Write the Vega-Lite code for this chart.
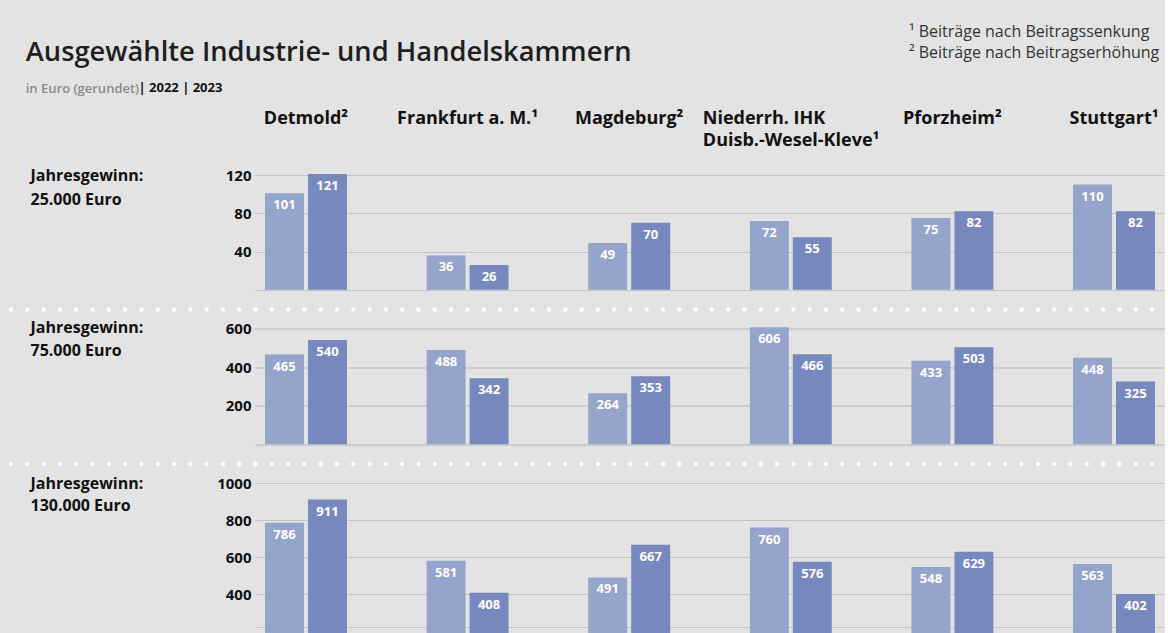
{
  "$schema": "https://vega.github.io/schema/vega-lite/v6.json",
  "background": "#e3e3e3",
  "padding": {"left": 2, "top": 24, "right": 0, "bottom": 0},
  "config": {
    "font": "Open Sans",
    "view": {"stroke": null}
  },
  "title": {
    "text": "Ausgewählte Industrie- und Handelskammern",
    "subtitle": "in Euro (gerundet)",
    "anchor": "start",
    "frame": "bounds",
    "dx": 23,
    "offset": -72,
    "fontSize": 27.3,
    "fontWeight": 600,
    "color": "#1e1e1e",
    "subtitleFontSize": 13,
    "subtitleFontWeight": 600,
    "subtitleColor": "#8a8a8a",
    "subtitlePadding": 17
  },
  "datasets": {
    "ihk": [
      {"gewinn": "25.000 Euro", "ort": "Detmold²", "jahr": "2022", "euro": 101},
      {"gewinn": "25.000 Euro", "ort": "Detmold²", "jahr": "2023", "euro": 121},
      {"gewinn": "25.000 Euro", "ort": "Frankfurt a. M.¹", "jahr": "2022", "euro": 36},
      {"gewinn": "25.000 Euro", "ort": "Frankfurt a. M.¹", "jahr": "2023", "euro": 26},
      {"gewinn": "25.000 Euro", "ort": "Magdeburg²", "jahr": "2022", "euro": 49},
      {"gewinn": "25.000 Euro", "ort": "Magdeburg²", "jahr": "2023", "euro": 70},
      {"gewinn": "25.000 Euro", "ort": "Niederrh. IHK Duisb.-Wesel-Kleve¹", "jahr": "2022", "euro": 72},
      {"gewinn": "25.000 Euro", "ort": "Niederrh. IHK Duisb.-Wesel-Kleve¹", "jahr": "2023", "euro": 55},
      {"gewinn": "25.000 Euro", "ort": "Pforzheim²", "jahr": "2022", "euro": 75},
      {"gewinn": "25.000 Euro", "ort": "Pforzheim²", "jahr": "2023", "euro": 82},
      {"gewinn": "25.000 Euro", "ort": "Stuttgart¹", "jahr": "2022", "euro": 110},
      {"gewinn": "25.000 Euro", "ort": "Stuttgart¹", "jahr": "2023", "euro": 82},
      {"gewinn": "75.000 Euro", "ort": "Detmold²", "jahr": "2022", "euro": 465},
      {"gewinn": "75.000 Euro", "ort": "Detmold²", "jahr": "2023", "euro": 540},
      {"gewinn": "75.000 Euro", "ort": "Frankfurt a. M.¹", "jahr": "2022", "euro": 488},
      {"gewinn": "75.000 Euro", "ort": "Frankfurt a. M.¹", "jahr": "2023", "euro": 342},
      {"gewinn": "75.000 Euro", "ort": "Magdeburg²", "jahr": "2022", "euro": 264},
      {"gewinn": "75.000 Euro", "ort": "Magdeburg²", "jahr": "2023", "euro": 353},
      {"gewinn": "75.000 Euro", "ort": "Niederrh. IHK Duisb.-Wesel-Kleve¹", "jahr": "2022", "euro": 606},
      {"gewinn": "75.000 Euro", "ort": "Niederrh. IHK Duisb.-Wesel-Kleve¹", "jahr": "2023", "euro": 466},
      {"gewinn": "75.000 Euro", "ort": "Pforzheim²", "jahr": "2022", "euro": 433},
      {"gewinn": "75.000 Euro", "ort": "Pforzheim²", "jahr": "2023", "euro": 503},
      {"gewinn": "75.000 Euro", "ort": "Stuttgart¹", "jahr": "2022", "euro": 448},
      {"gewinn": "75.000 Euro", "ort": "Stuttgart¹", "jahr": "2023", "euro": 325},
      {"gewinn": "130.000 Euro", "ort": "Detmold²", "jahr": "2022", "euro": 786},
      {"gewinn": "130.000 Euro", "ort": "Detmold²", "jahr": "2023", "euro": 911},
      {"gewinn": "130.000 Euro", "ort": "Frankfurt a. M.¹", "jahr": "2022", "euro": 581},
      {"gewinn": "130.000 Euro", "ort": "Frankfurt a. M.¹", "jahr": "2023", "euro": 408},
      {"gewinn": "130.000 Euro", "ort": "Magdeburg²", "jahr": "2022", "euro": 491},
      {"gewinn": "130.000 Euro", "ort": "Magdeburg²", "jahr": "2023", "euro": 667},
      {"gewinn": "130.000 Euro", "ort": "Niederrh. IHK Duisb.-Wesel-Kleve¹", "jahr": "2022", "euro": 760},
      {"gewinn": "130.000 Euro", "ort": "Niederrh. IHK Duisb.-Wesel-Kleve¹", "jahr": "2023", "euro": 576},
      {"gewinn": "130.000 Euro", "ort": "Pforzheim²", "jahr": "2022", "euro": 548},
      {"gewinn": "130.000 Euro", "ort": "Pforzheim²", "jahr": "2023", "euro": 629},
      {"gewinn": "130.000 Euro", "ort": "Stuttgart¹", "jahr": "2022", "euro": 563},
      {"gewinn": "130.000 Euro", "ort": "Stuttgart¹", "jahr": "2023", "euro": 402}
    ]
  },
  "bounds": "flush",
  "spacing": 19.5,
  "vconcat": [
    {
      "width": 910,
      "height": 134,
      "data": {"name": "ihk"},
      "transform": [{"filter": "datum.gewinn == '25.000 Euro'"}],
      "title": {
        "text": ["¹ Beiträge nach Beitragssenkung", "² Beiträge nach Beitragserhöhung"],
        "anchor": "start",
        "frame": "group",
        "align": "left",
        "dx": 654,
        "offset": 20,
        "fontSize": 16,
        "fontWeight": "normal",
        "color": "#333333",
        "lineHeight": 21
      },
      "encoding": {
        "x": {
          "field": "ort", "type": "nominal", "sort": null,
          "scale": {"paddingInner": 0.493, "paddingOuter": 0.062},
          "axis": {
            "orient": "top", "domain": false, "ticks": false, "tickSize": 0, "grid": false,
            "labelAngle": 0, "labelFontSize": 18, "labelFontWeight": "bold", "labelColor": "#111111",
            "labelPadding": 52, "labelBaseline": "alphabetic", "labelLineHeight": 22, "labelLimit": 400,
            "labelExpr": "indexof(datum.value, 'Niederrh') >= 0 ? ['Niederrh. IHK', 'Duisb.-Wesel-Kleve¹'] : datum.label",
            "labelAlign": {"condition": {"test": "indexof(datum.value, 'Niederrh') >= 0", "value": "left"}, "value": "center"},
            "labelOffset": {"condition": {"test": "indexof(datum.value, 'Niederrh') >= 0", "value": -88}, "value": 0},
            "title": "| 2022 | 2023",
            "titleX": -117, "titleY": -88, "titleAlign": "left", "titleBaseline": "middle", "titleAngle": 0,
            "titleFontSize": 13, "titleFontWeight": "bold", "titleColor": "#111111"
          }
        },
        "xOffset": {"field": "jahr", "type": "nominal", "scale": {"paddingInner": 0.093, "paddingOuter": 0}},
        "y": {
          "field": "euro", "type": "quantitative",
          "scale": {"domain": [-20, 120], "nice": false, "zero": false},
          "axis": {
            "values": [-20, 0, 40, 80, 120],
            "labelExpr": "datum.value > 0 ? datum.label : ''",
            "domain": false, "ticks": true, "tickSize": 250, "tickColor": "white", "tickWidth": 4.5,
            "tickDash": [0, 16.3], "tickCap": "round",
            "tickOpacity": {"condition": {"test": "datum.value < 0", "value": 1}, "value": 0},
            "labelPadding": -246, "labelFontSize": 15, "labelFontWeight": "bold", "labelColor": "#111111",
            "grid": true, "gridCap": "round",
            "gridColor": {"condition": {"test": "datum.value < 0", "value": "white"}, "value": "#c3c3c3"},
            "gridWidth": {"condition": {"test": "datum.value < 0", "value": 4.5}, "value": 1},
            "gridDash": {"condition": {"test": "datum.value < 0", "value": [0, 16.3]}, "value": [1, 0]},
            "title": ["Jahresgewinn:", "25.000 Euro"],
            "titleAngle": 0, "titleAlign": "left", "titleBaseline": "alphabetic",
            "titleX": -225, "titleY": 5, "titleFontSize": 16, "titleFontWeight": "bold", "titleColor": "#111111",
            "titleLineHeight": 24.5
          }
        }
      },
      "layer": [
        {
          "mark": {"type": "bar", "clip": false},
          "encoding": {
            "color": {"field": "jahr", "type": "nominal", "scale": {"domain": ["2022", "2023"], "range": ["#95a4ca", "#7788bf"]}, "legend": null}
          }
        },
        {
          "mark": {"type": "text", "dy": 12, "baseline": "middle", "color": "white", "fontWeight": "bold", "fontSize": 13},
          "encoding": {"text": {"field": "euro", "type": "quantitative"}}
        }
      ]
    },
    {
      "width": 910,
      "height": 135,
      "data": {"name": "ihk"},
      "transform": [{"filter": "datum.gewinn == '75.000 Euro'"}],
      "encoding": {
        "x": {
          "field": "ort", "type": "nominal", "sort": null,
          "scale": {"paddingInner": 0.493, "paddingOuter": 0.062},
          "axis": null
        },
        "xOffset": {"field": "jahr", "type": "nominal", "scale": {"paddingInner": 0.093, "paddingOuter": 0}},
        "y": {
          "field": "euro", "type": "quantitative",
          "scale": {"domain": [-100, 600], "nice": false, "zero": false},
          "axis": {
            "values": [-100, 0, 200, 400, 600],
            "labelExpr": "datum.value > 0 ? datum.label : ''",
            "domain": false, "ticks": true, "tickSize": 250, "tickColor": "white", "tickWidth": 4.5,
            "tickDash": [0, 16.3], "tickCap": "round",
            "tickOpacity": {"condition": {"test": "datum.value < 0", "value": 1}, "value": 0},
            "labelPadding": -246, "labelFontSize": 15, "labelFontWeight": "bold", "labelColor": "#111111",
            "grid": true, "gridCap": "round",
            "gridColor": {"condition": {"test": "datum.value < 0", "value": "white"}, "value": "#c3c3c3"},
            "gridWidth": {"condition": {"test": "datum.value < 0", "value": 4.5}, "value": 1},
            "gridDash": {"condition": {"test": "datum.value < 0", "value": [0, 16.3]}, "value": [1, 0]},
            "title": ["Jahresgewinn:", "75.000 Euro"],
            "titleAngle": 0, "titleAlign": "left", "titleBaseline": "alphabetic",
            "titleX": -225, "titleY": 4, "titleFontSize": 16, "titleFontWeight": "bold", "titleColor": "#111111",
            "titleLineHeight": 22.7
          }
        }
      },
      "layer": [
        {
          "mark": {"type": "bar", "clip": false},
          "encoding": {
            "color": {"field": "jahr", "type": "nominal", "scale": {"domain": ["2022", "2023"], "range": ["#95a4ca", "#7788bf"]}, "legend": null}
          }
        },
        {
          "mark": {"type": "text", "dy": 12, "baseline": "middle", "color": "white", "fontWeight": "bold", "fontSize": 13},
          "encoding": {"text": {"field": "euro", "type": "quantitative"}}
        }
      ]
    },
    {
      "width": 910,
      "height": 144,
      "data": {"name": "ihk"},
      "transform": [{"filter": "datum.gewinn == '130.000 Euro'"}],
      "encoding": {
        "x": {
          "field": "ort", "type": "nominal", "sort": null,
          "scale": {"paddingInner": 0.493, "paddingOuter": 0.062},
          "axis": null
        },
        "xOffset": {"field": "jahr", "type": "nominal", "scale": {"paddingInner": 0.093, "paddingOuter": 0}},
        "y": {
          "field": "euro", "type": "quantitative",
          "scale": {"domain": [224, 1000], "nice": false, "zero": false},
          "axis": {
            "values": [224, 400, 600, 800, 1000],
            "format": "d",
            "labelExpr": "datum.value >= 400 ? datum.label : ''",
            "domain": false, "ticks": false,
            "labelPadding": 4, "labelFontSize": 15, "labelFontWeight": "bold", "labelColor": "#111111",
            "grid": true, "gridColor": "#c3c3c3", "gridWidth": 1,
            "title": ["Jahresgewinn:", "130.000 Euro"],
            "titleAngle": 0, "titleAlign": "left", "titleBaseline": "alphabetic",
            "titleX": -225, "titleY": 5, "titleFontSize": 16, "titleFontWeight": "bold", "titleColor": "#111111",
            "titleLineHeight": 22.5
          }
        }
      },
      "layer": [
        {
          "mark": {"type": "bar", "clip": false},
          "encoding": {
            "color": {"field": "jahr", "type": "nominal", "scale": {"domain": ["2022", "2023"], "range": ["#95a4ca", "#7788bf"]}, "legend": null}
          }
        },
        {
          "mark": {"type": "text", "dy": 12, "baseline": "middle", "color": "white", "fontWeight": "bold", "fontSize": 13},
          "encoding": {"text": {"field": "euro", "type": "quantitative"}}
        }
      ]
    }
  ]
}
